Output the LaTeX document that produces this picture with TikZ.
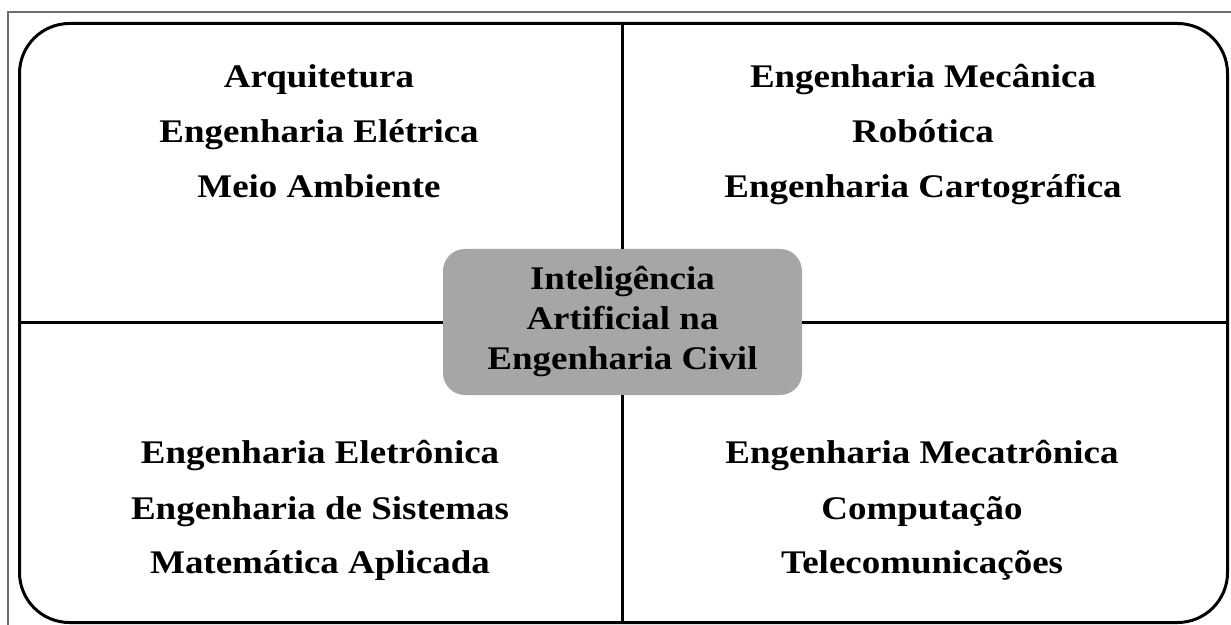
\documentclass[tikz,border=0pt]{standalone}
\usepackage{fontspec}
\usepackage{graphicx}
\newfontfamily\lsbold{Liberation Serif}
\newcommand\wide[1]{\scalebox{1.12}[1]{#1}}
\definecolor{boxgray}{RGB}{166,166,166}
\definecolor{edgegray}{RGB}{110,110,110}
\begin{document}
\begin{tikzpicture}[x=1bp,y=-1bp,
  qline/.style={anchor=base,inner sep=0pt,
    font=\lsbold\fontsize{33bp}{40bp}\selectfont\bfseries},
  ctext/.style={align=center,inner sep=0pt,fill=boxgray,rounded corners=22bp,
    minimum width=359bp,minimum height=146bp,
    font=\lsbold\fontsize{33bp}{40bp}\selectfont\bfseries},
  divider/.style={line width=3bp,black}]
\useasboundingbox (0,0) rectangle (1231,625);
% page frame (top and left edges)
\draw[edgegray,line width=1.3bp] (8,625) -- (8,12) -- (1231,12);
% outer rounded frame
\node[draw,line width=3bp,rounded corners=50bp,minimum width=1208bp,minimum height=599bp,inner sep=0pt,anchor=north west] (frame) at (18,22) {};
% central node
\node[ctext] (center) at (622.5,322) {\wide{Inteligência}\\\wide{Artificial na}\\\wide{Engenharia Civil}};
% dividers
\draw[divider] (center.north) -- (center.north |- frame.north);
\draw[divider] (center.south) -- (center.south |- frame.south);
\draw[divider] (center.west) -- (center.west -| frame.west);
\draw[divider] (center.east) -- (center.east -| frame.east);
% top left
\node[qline] (tl1) at (319,88) {\wide{Arquitetura}};
\node[qline] (tl2) at (319,143) {\wide{Engenharia Elétrica}};
\node[qline] (tl3) at (319,198) {\wide{Meio Ambiente}};
% top right
\node[qline] (tr1) at (923,88) {\wide{Engenharia Mecânica}};
\node[qline] (tr2) at (923,143) {\wide{Robótica}};
\node[qline] (tr3) at (923,198) {\wide{Engenharia Cartográfica}};
% bottom left
\node[qline] (bl1) at (320,463) {\wide{Engenharia Eletrônica}};
\node[qline] (bl2) at (320,519) {\wide{Engenharia de Sistemas}};
\node[qline] (bl3) at (320,573) {\wide{Matemática Aplicada}};
% bottom right
\node[qline] (br1) at (922,463) {\wide{Engenharia Mecatrônica}};
\node[qline] (br2) at (922,519) {\wide{Computação}};
\node[qline] (br3) at (922,573) {\wide{Telecomunicações}};
\end{tikzpicture}
\end{document}
